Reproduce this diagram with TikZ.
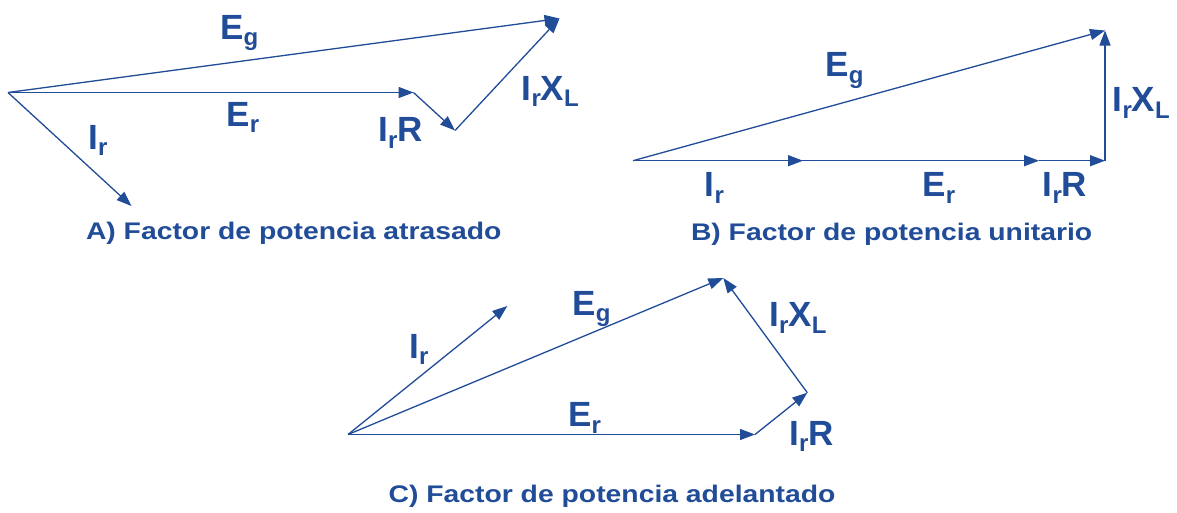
\documentclass[tikz,border=0pt]{standalone}
\usepackage{fontspec}
\setmainfont{Liberation Sans}
\newfontfamily\titlefont[FakeStretch=1.18]{Liberation Sans}
\usetikzlibrary{arrows.meta}
\definecolor{vblue}{RGB}{33,76,152}
\newcommand\vsub[1]{\raisebox{-6.5pt}{\fontsize{24}{24}\selectfont #1}}
\tikzset{
  vec/.style={draw=vblue, line width=1.3pt, -{Triangle[length=15pt,width=11pt]}},
  lbl/.style={anchor=base west, inner sep=0pt, outer sep=0pt, text=vblue,
              font=\fontsize{35}{35}\selectfont\bfseries},
  ttl/.style={anchor=base west, inner sep=0pt, outer sep=0pt, text=vblue,
              font=\titlefont\fontsize{24}{24}\selectfont\bfseries}
}
\begin{document}
\begin{tikzpicture}[x=1pt,y=-1pt]
\fill[white] (0,0) rectangle (1177,512);
\useasboundingbox (0,0) rectangle (1177,512);
% ---------- A) lagging ----------
\coordinate (aO) at (8,92.5);
\coordinate (aEr) at (413.5,92.5);
\coordinate (aIrR) at (455,130.5);
\coordinate (aEg) at (559.5,18.5);
\coordinate (aIr) at (131.5,206);
\draw[vec] (aO) -- (aEg);
\draw[vec] (aO) -- (aEr);
\draw[vec] (aEr) -- (aIrR);
\draw[vec] (aIrR) -- (aEg);
\draw[vec] (aO) -- (aIr);
\node[lbl] (aEgL) at (220.2,39.3) {E\vsub{g}};
\node[lbl] (aErL) at (226.5,126) {E\vsub{r}};
\node[lbl] (aIrL) at (88.5,149.3) {I\vsub{r}};
\node[lbl] (aIrRL) at (378.5,141.7) {I\vsub{r}R};
\node[lbl] (aIrXL) at (521.8,100) {I\vsub{r}X\vsub{L}};
\node[ttl] (aT) at (86,239.5) {A) Factor de potencia atrasado};
% ---------- B) unity ----------
\coordinate (bO) at (633,160.7);
\coordinate (bIr) at (803,160.7);
\coordinate (bEr) at (1039,160.7);
\coordinate (bIrR) at (1105,160.7);
\coordinate (bEg) at (1105,30.5);
\draw[vec] (bO) -- (bEg);
\draw[vec] (bO) -- (bEr);
\draw[vec] (bO) -- (bIr);
\draw[vec] (bEr) -- (bIrR);
\draw[vec] (bIrR) -- (bEg);
\node[lbl] (bEgL) at (825.5,76.7) {E\vsub{g}};
\node[lbl] (bIrL) at (704.8,196.7) {I\vsub{r}};
\node[lbl] (bErL) at (922.5,196.7) {E\vsub{r}};
\node[lbl] (bIrRL) at (1042.8,196.7) {I\vsub{r}R};
\node[lbl] (bIrXL) at (1112.8,111.7) {I\vsub{r}X\vsub{L}};
\node[ttl] (bT) at (691,240) {B) Factor de potencia unitario};
% ---------- C) leading ----------
\coordinate (cO) at (348,434.5);
\coordinate (cIr) at (507.3,306);
\coordinate (cEg) at (723.3,278);
\coordinate (cEr) at (755,434.5);
\coordinate (cIrR) at (807.3,392.7);
\draw[vec] (cO) -- (cIr);
\draw[vec] (cO) -- (cEg);
\draw[vec] (cO) -- (cEr);
\draw[vec] (cEr) -- (cIrR);
\draw[vec] (cIrR) -- (cEg);
\node[lbl] (cIrL) at (409.5,358.3) {I\vsub{r}};
\node[lbl] (cEgL) at (572.5,315) {E\vsub{g}};
\node[lbl] (cErL) at (568.2,426.7) {E\vsub{r}};
\node[lbl] (cIrXL) at (769.5,326.7) {I\vsub{r}X\vsub{L}};
\node[lbl] (cIrRL) at (789.5,445) {I\vsub{r}R};
\node[ttl] (cT) at (388.6,502.7) {C) Factor de potencia adelantado};
\end{tikzpicture}
\end{document}
